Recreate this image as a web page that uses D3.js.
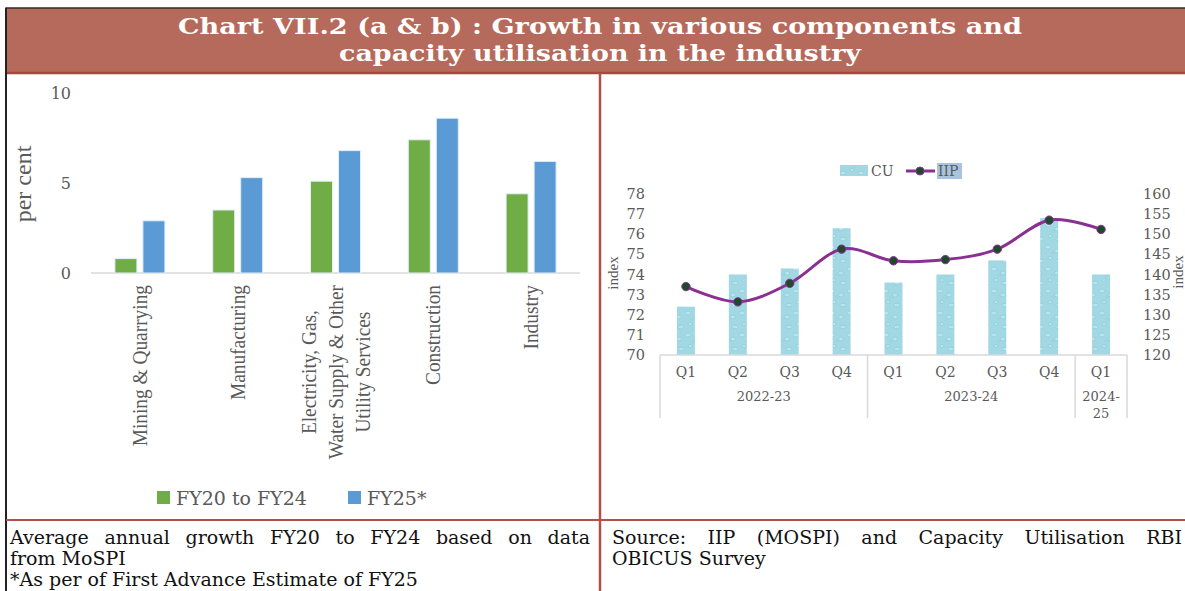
<!DOCTYPE html>
<html>
<head>
<meta charset="utf-8">
<script src="https://cdn.jsdelivr.net/npm/d3@7/dist/d3.min.js"></script>
<style>
  body { margin: 0; background: #fff; }
  svg { display: block; }
</style>
</head>
<body>
<div id="chart"></div>
<script>
// ---- data: panel (a) ----
var sectors = ["Mining & Quarrying", "Manufacturing",
               "Electricity, Gas,|Water Supply & Other|Utility Services",
               "Construction", "Industry"];
var fy20to24 = [0.8, 3.5, 5.1, 7.4, 4.4];
var fy25 = [2.9, 5.3, 6.8, 8.6, 6.2];
var growthTicks = [0, 5, 10];

// ---- data: panel (b) ----
var quarters = ["Q1", "Q2", "Q3", "Q4", "Q1", "Q2", "Q3", "Q4", "Q1"];
var fiscalYears = ["2022-23", "2023-24", "2024-|25"];
var quartersPerYear = [4, 4, 1];
var cuValues = [72.4, 74.0, 74.3, 76.3, 73.6, 74.0, 74.7, 76.8, 74.0];
var iipValues = [137.0, 133.2, 137.8, 146.3, 143.4, 143.7, 146.3, 153.5, 151.2];
var cuTicks = [70, 71, 72, 73, 74, 75, 76, 77, 78];
var iipTicks = [120, 125, 130, 135, 140, 145, 150, 155, 160];

var W = 1185, H = 591;
var grey = "#595959";
var serif = "'DejaVu Serif', Georgia, serif";
var times = "'Liberation Serif', 'Times New Roman', serif";

var svg = d3.select("#chart").append("svg")
    .attr("width", W).attr("height", H);

// ---- frame and title ----
svg.append("rect").attr("x", 6).attr("y", 8).attr("width", W).attr("height", 65)
    .attr("fill", "#B56A5B").attr("stroke", "#3a2a28").attr("stroke-width", 1.5);
svg.append("line").attr("x1", 6).attr("x2", W).attr("y1", 73).attr("y2", 73)
    .attr("stroke", "#A9473F").attr("stroke-width", 2.5);
svg.append("line").attr("x1", 6).attr("x2", 6).attr("y1", 8).attr("y2", H)
    .attr("stroke", "#222").attr("stroke-width", 2);
svg.append("line").attr("x1", 600).attr("x2", 600).attr("y1", 73).attr("y2", H)
    .attr("stroke", "#B24F47").attr("stroke-width", 2.5);
svg.append("line").attr("x1", 6).attr("x2", W).attr("y1", 520).attr("y2", 520)
    .attr("stroke", "#B24F47").attr("stroke-width", 2);

var titleLines = ["Chart VII.2 (a & b) : Growth in various components and",
                  "capacity utilisation in the industry"];
var titleWidths = [844, 522];
titleLines.forEach(function(t, i) {
  svg.append("text")
      .attr("x", 600).attr("y", 34 + i * 27)
      .attr("text-anchor", "middle")
      .attr("font-family", serif).attr("font-weight", "bold")
      .attr("font-size", 22).attr("fill", "#fff")
      .attr("textLength", titleWidths[i]).attr("lengthAdjust", "spacingAndGlyphs")
      .text(t);
});

// ---- panel (a): grouped bars ----
var x0 = d3.scaleBand().domain(sectors).range([91, 580]);
var x1 = d3.scaleBand().domain(["a", "b"]).range([-25, 25]).paddingInner(6 / 28);
var y = d3.scaleLinear().domain([0, 10]).range([273, 93]);

var gA = svg.append("g");

gA.selectAll(".ytick").data(growthTicks).enter().append("text")
    .attr("x", 71).attr("y", function(d) { return y(d); })
    .attr("dy", "0.35em").attr("text-anchor", "end")
    .attr("font-family", serif).attr("font-size", 16).attr("fill", grey)
    .text(function(d) { return d; });

gA.append("text")
    .attr("transform", "translate(31,184) rotate(-90)")
    .attr("text-anchor", "middle")
    .attr("font-family", times).attr("font-size", 24).attr("fill", grey)
    .text("per cent");

gA.append("line").attr("x1", 91).attr("x2", 580)
    .attr("y1", y(0)).attr("y2", y(0))
    .attr("stroke", "#D9D9D9").attr("stroke-width", 1.5);

var barData = [];
sectors.forEach(function(s, i) {
  barData.push({ s: s, k: "a", v: fy20to24[i] });
  barData.push({ s: s, k: "b", v: fy25[i] });
});
var barColor = { a: "#70AD47", b: "#5B9BD5" };

gA.selectAll(".bar").data(barData).enter().append("rect")
    .attr("x", function(d) { return x0(d.s) + x0.bandwidth() / 2 + x1(d.k); })
    .attr("width", x1.bandwidth())
    .attr("y", function(d) { return y(d.v); })
    .attr("height", function(d) { return y(0) - y(d.v); })
    .attr("fill", function(d) { return barColor[d.k]; })
    .attr("stroke", "#E3EEF8").attr("stroke-width", 1);

// rotated category labels, lines separated by "|"
sectors.forEach(function(s) {
  var lines = s.split("|");
  var cx = x0(s) + x0.bandwidth() / 2;
  var lh = 27;
  var g = gA.append("g");
  var texts = lines.map(function(l, j) {
    return g.append("text")
        .attr("font-family", times).attr("font-size", 22).attr("fill", grey)
        .attr("text-anchor", "middle")
        .text(l);
  });
  var maxLen = d3.max(texts, function(t) { return t.node().getComputedTextLength(); }) * 0.88;
  var cy = 285 + maxLen / 2;
  texts.forEach(function(t, j) {
    var off = (j - (lines.length - 1) / 2) * lh;
    t.attr("transform", "translate(" + (cx + off + 7) + "," + cy + ") rotate(-90) scale(0.88,1)");
  });
});

// legend (a)
var legA = [{ k: "a", label: "FY20 to FY24", x: 157 }, { k: "b", label: "FY25*", x: 348 }];
legA.forEach(function(l) {
  gA.append("rect").attr("x", l.x).attr("y", 491).attr("width", 13).attr("height", 13)
      .attr("fill", barColor[l.k]);
  gA.append("text").attr("x", l.x + 19).attr("y", 498).attr("dy", "0.35em")
      .attr("font-family", serif).attr("font-size", 19).attr("fill", grey)
      .text(l.label);
});

// ---- panel (b): CU bars + IIP line ----
var defs = svg.append("defs");
var pat = defs.append("pattern").attr("id", "drops")
    .attr("patternUnits", "userSpaceOnUse").attr("width", 18).attr("height", 22);
pat.append("rect").attr("width", 18).attr("height", 22).attr("fill", "#A2D8E3");
[[4, 5, 3, 2], [13, 9, 2.5, 2], [6, 16, 2, 1.5], [15, 19, 3, 1.8], [9, 11, 1.5, 1]].forEach(function(e) {
  pat.append("ellipse").attr("cx", e[0]).attr("cy", e[1]).attr("rx", e[2]).attr("ry", e[3])
      .attr("fill", "#B8E5EC").attr("stroke", "#86C6D4").attr("stroke-width", 0.6);
});

var xq = d3.scaleBand().domain(d3.range(quarters.length)).range([660, 1127]);
var yL = d3.scaleLinear().domain([70, 78]).range([355, 194]);
var yR = d3.scaleLinear().domain([120, 160]).range([355, 194]);
var gB = svg.append("g");
var bw = 18;

gB.selectAll(".cu").data(cuValues).enter().append("rect")
    .attr("x", function(d, i) { return xq(i) + xq.bandwidth() / 2 - bw / 2; })
    .attr("width", bw)
    .attr("y", function(d) { return yL(d); })
    .attr("height", function(d) { return yL(70) - yL(d); })
    .attr("fill", "url(#drops)");

gB.append("line").attr("x1", 660).attr("x2", 1127).attr("y1", 355).attr("y2", 355)
    .attr("stroke", "#D9D9D9").attr("stroke-width", 1.5);

gB.selectAll(".yl").data(cuTicks).enter().append("text")
    .attr("x", 645).attr("y", function(d) { return yL(d); }).attr("dy", "0.35em")
    .attr("text-anchor", "end")
    .attr("font-family", serif).attr("font-size", 14.5).attr("fill", grey)
    .text(function(d) { return d; });
gB.selectAll(".yr").data(iipTicks).enter().append("text")
    .attr("x", 1143).attr("y", function(d) { return yR(d); }).attr("dy", "0.35em")
    .attr("font-family", serif).attr("font-size", 14.5).attr("fill", grey)
    .text(function(d) { return d; });
gB.append("text").attr("transform", "translate(618,273) rotate(-90)")
    .attr("text-anchor", "middle")
    .attr("font-family", times).attr("font-size", 15).attr("fill", grey)
    .text("index");
gB.append("text").attr("transform", "translate(1183,272) rotate(-90)")
    .attr("text-anchor", "middle")
    .attr("font-family", times).attr("font-size", 15).attr("fill", grey)
    .text("index");

gB.selectAll(".q").data(quarters).enter().append("text")
    .attr("x", function(d, i) { return xq(i) + xq.bandwidth() / 2; })
    .attr("y", 372).attr("dy", "0.35em").attr("text-anchor", "middle")
    .attr("font-family", serif).attr("font-size", 14).attr("fill", grey)
    .text(function(d) { return d; });

// fiscal year groups with separators
var start = 0;
gB.append("line").attr("x1", xq(0)).attr("x2", xq(0)).attr("y1", 355).attr("y2", 418)
    .attr("stroke", "#D9D9D9").attr("stroke-width", 1.5);
fiscalYears.forEach(function(fy, i) {
  var n = quartersPerYear[i];
  var left = xq(start), right = xq(start + n - 1) + xq.bandwidth();
  gB.append("line").attr("x1", right).attr("x2", right).attr("y1", 355).attr("y2", 418)
      .attr("stroke", "#D9D9D9").attr("stroke-width", 1.5);
  fy.split("|").forEach(function(part, j) {
    gB.append("text").attr("x", (left + right) / 2).attr("y", 396 + j * 17)
        .attr("dy", "0.35em").attr("text-anchor", "middle")
        .attr("font-family", serif).attr("font-size", 13).attr("fill", grey)
        .text(part);
  });
  start += n;
});

var lineColor = "#8B3093";
var iipLine = d3.line()
    .x(function(d, i) { return xq(i) + xq.bandwidth() / 2; })
    .y(function(d) { return yR(d); })
    .curve(d3.curveCardinal.tension(0));
gB.append("path").datum(iipValues).attr("d", iipLine)
    .attr("fill", "none").attr("stroke", lineColor).attr("stroke-width", 3);
gB.selectAll(".dot").data(iipValues).enter().append("circle")
    .attr("cx", function(d, i) { return xq(i) + xq.bandwidth() / 2; })
    .attr("cy", function(d) { return yR(d); })
    .attr("r", 4.2)
    .attr("fill", "#1E4A2C").attr("stroke", lineColor).attr("stroke-width", 1);

// legend (b)
gB.append("rect").attr("x", 840).attr("y", 165).attr("width", 28).attr("height", 11)
    .attr("fill", "url(#drops)");
gB.append("text").attr("x", 871).attr("y", 171).attr("dy", "0.35em")
    .attr("font-family", serif).attr("font-size", 14).attr("fill", grey).text("CU");
gB.append("line").attr("x1", 906).attr("x2", 935).attr("y1", 171).attr("y2", 171)
    .attr("stroke", lineColor).attr("stroke-width", 3);
gB.append("circle").attr("cx", 920).attr("cy", 171).attr("r", 4)
    .attr("fill", "#1E4A2C").attr("stroke", lineColor);
gB.append("rect").attr("x", 937).attr("y", 163).attr("width", 25).attr("height", 16)
    .attr("fill", "#A9C3DE");
gB.append("text").attr("x", 938).attr("y", 171).attr("dy", "0.35em")
    .attr("font-family", serif).attr("font-size", 14).attr("fill", grey).text("IIP");

// ---- notes: justified where the original is ----
function note(x, yPos, str, width) {
  var words = str.split(" ");
  var t = svg.append("text").attr("y", yPos)
      .attr("font-family", serif).attr("font-size", 19).attr("fill", "#111");
  if (!width) { t.attr("x", x).text(str); return; }
  var spans = words.map(function(w) { return t.append("tspan").text(w); });
  var lens = spans.map(function(s) { return s.node().getComputedTextLength(); });
  var gap = (width - d3.sum(lens)) / (words.length - 1);
  var cx = x;
  spans.forEach(function(s, i) { s.attr("x", cx); cx += lens[i] + gap; });
}
note(10, 544, "Average annual growth FY20 to FY24 based on data", 580);
note(10, 565, "from MoSPI");
note(10, 586, "*As per of First Advance Estimate of FY25");
note(612, 544, "Source: IIP (MOSPI) and Capacity Utilisation RBI", 570);
note(612, 565, "OBICUS Survey");
</script>
</body>
</html>
